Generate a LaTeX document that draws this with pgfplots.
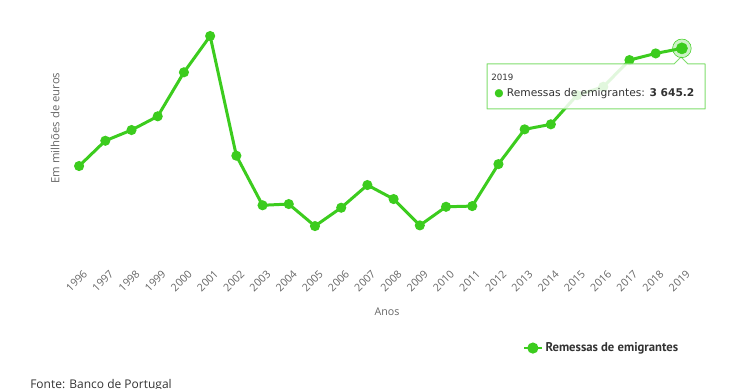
\documentclass[border=0pt]{standalone}
\usepackage{pgfplots}
\pgfplotsset{compat=1.18}
\usepackage{fontspec}
\setmainfont{Open Sans}
\newfontfamily\legfont{PT Sans}
\newfontfamily\tipfont{DejaVu Sans}
\definecolor{lg}{RGB}{60,204,30}
\definecolor{axgray}{RGB}{102,102,102}
\definecolor{txt}{RGB}{51,51,51}
\pgfplotstableread{
x year val
0 1996 2779
1 1997 2965
2 1998 3044
3 1999 3145
4 2000 3469
5 2001 3736
6 2002 2855
7 2003 2490
8 2004 2499
9 2005 2337
10 2006 2472
11 2007 2639
12 2008 2536
13 2009 2342
14 2010 2479
15 2011 2484
16 2012 2793
17 2013 3049
18 2014 3086
19 2015 3301
20 2016 3362
21 2017 3559
22 2018 3608
23 2019 3645.2
}\remessas
\begin{document}
\begin{tikzpicture}
\useasboundingbox (0,0) rectangle (555pt,291.75pt);
\begin{axis}[
  at={(49.5pt,100.5pt)}, anchor=south west,
  scale only axis, width=471.75pt, height=176.25pt,
  xmin=-0.5, xmax=23.5, ymin=2124, ymax=3854,
  axis x line=bottom, axis y line=none,
  x axis line style={draw=none, -},
  major tick length=0pt,
  ytick=\empty,
  xtick={0,...,23},
  xticklabels={1996,1997,1998,1999,2000,2001,2002,2003,2004,2005,2006,2007,2008,2009,2010,2011,2012,2013,2014,2015,2016,2017,2018,2019},
  xticklabel style={rotate=45, anchor=north east, font=\fontsize{8}{9}\selectfont, text=axgray, inner sep=0pt},
  tick label style={/pgf/number format/assume math mode=true},
  every tick label/.append style={yshift=-10.5pt, xshift=2.5pt},
  clip=false,
  legend style={at={(0.852,-0.396)}, anchor=center, draw=none, fill=none, font=\legfont\bfseries\fontsize{9.5}{11}\selectfont, text=txt, inner sep=0pt},
  legend image code/.code={\draw[lg, line width=2pt] (0pt,0pt) -- (13pt,0pt); \fill[lg] (6.5pt,0pt) circle (3pt);},
]
\addplot[lg, line width=2.25pt, mark=*, mark size=2.6pt, mark options={solid, fill=lg, draw=none}] table[x=x, y=val] {\remessas};
\addlegendentry{Remessas de emigrantes}
\end{axis}
\begin{scope}[x=0.75pt, y=-0.75pt, yshift=291.75pt]
  % tooltip
  \fill[white, opacity=0.85] (487,64) -- (674,64) -- (681,57) -- (688,64) -- (705,64) -- (705,109) -- (487,109) -- cycle;
  \draw[lg!65, line width=0.75pt, line join=round] (487,64) -- (674,64) -- (681,57) -- (688,64) -- (705,64) -- (705,109) -- (487,109) -- cycle;
  \node[anchor=west, inner sep=0pt, text=txt] at (491,77) {\tipfont\fontsize{6.5}{8}\selectfont 2019};
  \node[anchor=west, inner sep=0pt, text=txt] at (494,94) {\tipfont\fontsize{8}{10}\selectfont{\color{lg}●} Remessas de emigrantes: \textbf{3 645.2}};
  % axis titles
  \node[rotate=90, text=axgray, font=\fontsize{8.5}{10}\selectfont] at (55,128) {Em milhões de euros};
  \node[text=axgray, font=\fontsize{8}{10}\selectfont] at (387,312) {Anos};
  \node[anchor=base west, inner sep=0pt, text=txt, font=\fontsize{9}{11}\selectfont] at (30,389) {Fonte: Banco de Portugal};
\end{scope}
\begin{axis}[
  at={(49.5pt,100.5pt)}, anchor=south west,
  scale only axis, width=471.75pt, height=176.25pt,
  xmin=-0.5, xmax=23.5, ymin=2124, ymax=3854,
  hide axis, clip=false]
\addplot[lg, only marks, mark=*, mark size=7pt, mark options={solid, fill=lg, draw=none, fill opacity=0.25}] coordinates {(23,3645.2)};
\addplot[lg, only marks, mark=*, mark size=4.2pt, mark options={solid, fill=lg, draw=none}] coordinates {(23,3645.2)};
\end{axis}
\end{tikzpicture}
\end{document}
